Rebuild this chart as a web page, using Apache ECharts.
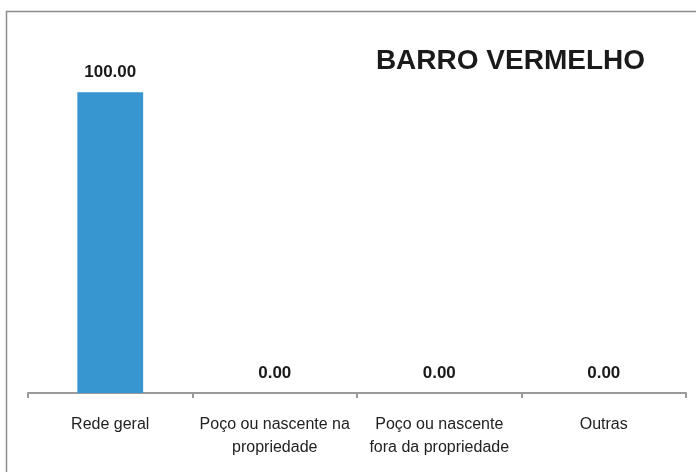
<!DOCTYPE html>
<html>
<head>
<meta charset="utf-8">
<script src="https://cdn.jsdelivr.net/npm/echarts@6/dist/echarts.min.js"></script>
<style>
  html, body { margin: 0; padding: 0; background: #fff; }
  #chart { width: 696px; height: 472px; }
</style>
</head>
<body>
<div id="chart"></div>
<script>
const categories = [
  "Rede geral",
  "Poço ou nascente na\npropriedade",
  "Poço ou nascente\nfora da propriedade",
  "Outras",
];
const values = [100, 0, 0, 0];
const chartTitle = "BARRO VERMELHO";

const chart = echarts.init(document.getElementById("chart"));

const option = {
  animation: false,
  title: {
    text: chartTitle,
    right: 46,
    top: 42,
    textStyle: {
      fontFamily: "Liberation Sans",
      fontSize: 28,
      fontWeight: "bold",
      color: "#1a1a1a",
    },
  },
  graphic: [
    {
      type: "rect",
      shape: { x: 6.5, y: 11.5, width: 720, height: 500 },
      style: { fill: "none", stroke: "#8c8c8c", lineWidth: 1.5 },
      silent: true,
    },
  ],
  grid: {
    left: 28,
    right: 10,
    top: 32,
    bottom: 79,
  },
  xAxis: {
    type: "category",
    data: categories,
    axisLine: { lineStyle: { color: "#9a9a9a", width: 2 } },
    axisTick: { show: true, length: 5, lineStyle: { color: "#9a9a9a", width: 2 } },
    axisLabel: {
      interval: 0,
      color: "#222",
      fontFamily: "Liberation Sans",
      fontSize: 16,
      lineHeight: 23,
      margin: 20,
    },
  },
  yAxis: {
    type: "value",
    min: 0,
    max: 120,
    show: false,
  },
  series: [
    {
      type: "bar",
      data: values,
      barWidth: "40%",
      itemStyle: { color: "#3795cf" },
      label: {
        show: true,
        position: "top",
        distance: 11,
        formatter: (p) => p.value.toFixed(2),
        color: "#1a1a1a",
        fontFamily: "Liberation Sans",
        fontWeight: "bold",
        fontSize: 17,
      },
    },
  ],
};

chart.setOption(option);
</script>
</body>
</html>
